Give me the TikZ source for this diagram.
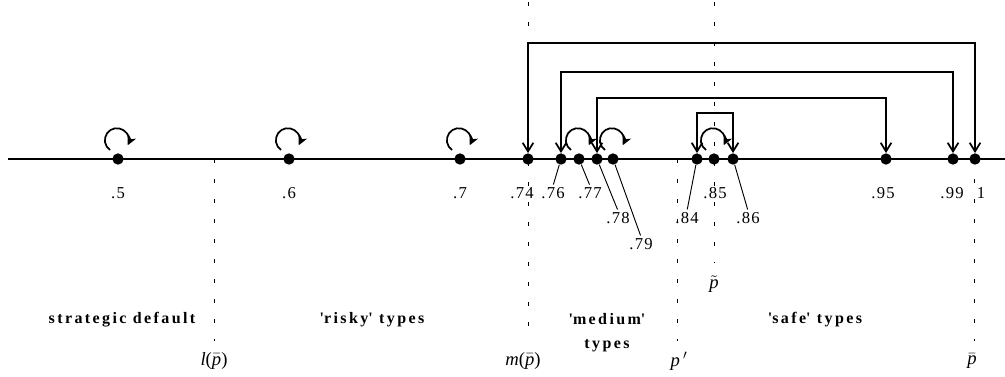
\documentclass[tikz,border=0pt]{standalone}
\usepackage{fontspec}
\setmainfont{Liberation Serif}
\usetikzlibrary{arrows.meta}
\newcommand{\barp}{$\bar{\hbox{\itshape p}}$}
\begin{document}
\begin{tikzpicture}[x=0.75pt,y=-0.75pt,
  dot/.style={circle,fill=black,inner sep=0pt,minimum size=8.5pt},
  axis/.style={line width=2.2pt},
  jump/.style={line width=1.3pt,
    {Straight Barb[length=6.5pt,width=8pt]}-{Straight Barb[length=6.5pt,width=8pt]}},
  loopy/.style={line width=1.3pt,-{Stealth[length=7pt,width=7pt,inset=2pt]}},
  lead/.style={line width=0.7pt},
  guide/.style={line width=0.7pt,dash pattern=on 3pt off 12pt},
  val/.style={font=\fontsize{12.5}{14}\selectfont\addfontfeature{LetterSpace=8},inner sep=1pt},
  region/.style={font=\fontsize{12}{18}\selectfont\bfseries\addfontfeature{LetterSpace=15},align=center},
  bound/.style={font=\fontsize{14}{16}\selectfont,inner sep=0pt}]

\useasboundingbox (0,0) rectangle (1005,376);

% the type axis
\coordinate (axL) at (8,159);
\coordinate (axR) at (1005,159);
\draw[axis] (axL) -- (axR);

% types on the axis
\foreach \n/\x in {50/118,60/289,70/460,74/528,76/561,77/579,78/597,79/613,
                   84/697,85/714,86/733,95/886,99/953,100/975}
  \node[dot] (d\n) at (\x,159) {};

% value labels
\node[val] (l50) at (118,193) {.5};
\node[val] (l60) at (289,193) {.6};
\node[val] (l70) at (460,193) {.7};
\node[val] (l74) at (522,193) {.74};
\node[val] (l76) at (553,193) {.76};
\node[val] (l77) at (590,193) {.77};
\node[val] (l78) at (618,218) {.78};
\node[val] (l79) at (641,244) {.79};
\node[val] (l84) at (687,218) {.84};
\node[val] (l85) at (715,193) {.85};
\node[val] (l86) at (748,218) {.86};
\node[val] (l95) at (883,193) {.95};
\node[val] (l99) at (952,193) {.99};
\node[val] (l100) at (981,193) {1};

% leader lines
\foreach \n in {76,77,78,79,84,86}
  \draw[lead,shorten >=1pt] (d\n) -- (l\n.north);

% self loops
\foreach \n in {50,60,70,77,79,85}
  \draw[loopy] (d\n.center) ++(-8,-9) arc[start angle=125,end angle=385,radius=12];

% heights of the jump brackets
\coordinate (h1) at (0,43);
\coordinate (h2) at (0,72);
\coordinate (h3) at (0,98);
\coordinate (h4) at (0,113);

\draw[jump] (d74.north) -- (d74.north |- h1) -- (d100.north |- h1) -- (d100.north);
\draw[jump] (d76.north) -- (d76.north |- h2) -- (d99.north |- h2) -- (d99.north);
\draw[jump] (d78.north) -- (d78.north |- h3) -- (d95.north |- h3) -- (d95.north);
\draw[jump] (d84.north) -- (d84.north |- h4) -- (d86.north |- h4) -- (d86.north);

% thresholds
\coordinate (gl) at (214,159);
\node[bound] (bl) at (214,361) {\textit{l}(\barp)};
\draw[guide,shorten >=15pt] (gl) -- (gl |- bl);

\coordinate (gm) at (528,2);
\node[bound] (bm) at (523,361) {\textit{m}(\barp)};
\draw[guide,shorten >=15pt] (gm) -- (gm |- bm);

\coordinate (gp) at (677,159);
\node[bound] (bp) at (679,361) {\textit{p}\,$'$};
\draw[guide,shorten >=15pt] (gp) -- (gp |- bp);

\coordinate (gt) at (714,2);
\node[bound] (bt) at (714,284) {$\tilde{\hbox{\itshape p}}$};
\draw[guide,shorten >=16pt] (gt) -- (gt |- bt);

\coordinate (gb) at (974,159);
\node[bound] (bb) at (972,361) {\barp};
\draw[guide,shorten >=15pt] (gb) -- (gb |- bb);

% regions
\node[region] (rs) at (122,320) {strategic default};
\node[region] (rr) at (372,320) {\textquotesingle risky\textquotesingle{} types};
\node[region,anchor=north] (rm) at (607,309) {\textquotesingle medium\textquotesingle\\types};
\node[region] (rf) at (815,320) {\textquotesingle safe\textquotesingle{} types};
\end{tikzpicture}
\end{document}
